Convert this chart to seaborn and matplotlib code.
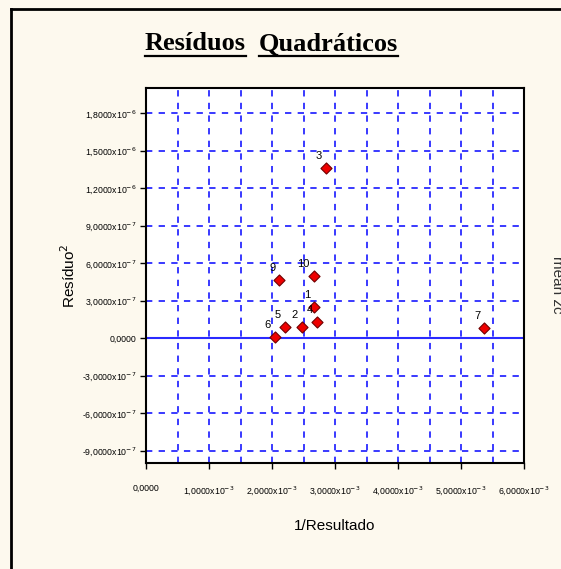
import numpy as np
import pandas as pd
import matplotlib
matplotlib.use("Agg")
import matplotlib.pyplot as plt
import seaborn as sns
from matplotlib.lines import Line2D

# dados
pontos = ["1", "2", "3", "4", "5", "6", "7", "9", "10"]
inv_resultado = [2.671e-3, 2.471e-3, 2.857e-3, 2.719e-3, 2.211e-3, 2.048e-3, 5.37e-3, 2.116e-3, 2.667e-3]
residuo2 = [2.50e-7, 0.90e-7, 1.357e-6, 1.30e-7, 0.90e-7, 0.05e-7, 0.78e-7, 4.64e-7, 4.98e-7]

yticks = [-9e-7, -6e-7, -3e-7, 0, 3e-7, 6e-7, 9e-7, 1.2e-6, 1.5e-6, 1.8e-6]
ylabels = [r"-9,0000x10$^{-7}$", r"-6,0000x10$^{-7}$", r"-3,0000x10$^{-7}$", "0,0000",
           r"3,0000x10$^{-7}$", r"6,0000x10$^{-7}$", r"9,0000x10$^{-7}$",
           r"1,2000x10$^{-6}$", r"1,5000x10$^{-6}$", r"1,8000x10$^{-6}$"]
xticks = [0, 1e-3, 2e-3, 3e-3, 4e-3, 5e-3, 6e-3]
xlabels = ["0,0000"] + [r"%d,0000x10$^{-3}$" % i for i in range(1, 7)]

df = pd.DataFrame({"x": inv_resultado, "y": residuo2, "n": pontos})

plt.rcParams["font.family"] = ["Liberation Sans", "DejaVu Sans"]
fundo = "#fdf9ee"
azul = "#2a2aff"

fig = plt.figure(figsize=(5.61, 5.69), dpi=100, facecolor=fundo)
ax = fig.add_axes([146 / 561, 106 / 569, 378 / 561, 375 / 569])
ax.set_facecolor("white")

# grade
for gx in np.arange(0.5e-3, 6e-3, 0.5e-3):
    ax.axvline(gx, color=azul, lw=1.3, ls=(0, (3.5, 3.5)), zorder=1)
for gy in yticks:
    if gy == 0:
        ax.axhline(0, color=azul, lw=1.5, zorder=1)
    else:
        ax.axhline(gy, color=azul, lw=1.3, ls=(0, (3.5, 3.5)), zorder=1)

sns.scatterplot(data=df, x="x", y="y", marker="D", s=32, color="#ee0000",
                edgecolor="#700000", linewidth=0.8, ax=ax, zorder=3)
for _, r in df.iterrows():
    ax.annotate(r["n"], (r["x"], r["y"]), xytext=(-3, 5), textcoords="offset points",
                ha="right", va="bottom", fontsize=8, zorder=4)

ax.set_xlim(0, 6e-3)
ax.set_ylim(-1e-6, 2e-6)
ax.set_xticks(xticks)
ax.set_xticklabels(xlabels, fontsize=6.3)
ax.set_yticks(yticks)
ax.set_yticklabels(ylabels, fontsize=6.3)
ax.tick_params(axis="both", length=4, width=1, color="black", pad=3)
ax.tick_params(axis="x", pad=11)
for s in ax.spines.values():
    s.set_linewidth(1.5)
    s.set_color("black")

ax.set_xlabel("1/Resultado", fontsize=11, labelpad=16)
ax.set_ylabel("Resíduo$^2$", fontsize=11, labelpad=3)

# titulo sublinhado
t1 = fig.text(145 / 561, 1 - 44 / 569, "Resíduos", family="Liberation Serif",
              weight="bold", fontsize=19, ha="left", va="center")
t2 = fig.text(259 / 561, 1 - 44 / 569, "Quadráticos", family="Liberation Serif",
              weight="bold", fontsize=19, ha="left", va="center")
fig.canvas.draw()
inv = fig.transFigure.inverted()
for t in (t1, t2):
    bb = t.get_window_extent().transformed(inv)
    fig.add_artist(Line2D([bb.x0, bb.x1], [bb.y0 - 0.001, bb.y0 - 0.001],
                          color="black", lw=1.6, transform=fig.transFigure))

# texto cortado na direita (como no original)
fig.text(557 / 561, 0.5, "mean zc", rotation=-90, fontsize=11, ha="center", va="center", color="#333333")

# moldura
fig.add_artist(Line2D([11 / 561, 11 / 561], [0, 1 - 9 / 569], color="black", lw=2, transform=fig.transFigure))
fig.add_artist(Line2D([11 / 561, 1], [1 - 9 / 569, 1 - 9 / 569], color="black", lw=2, transform=fig.transFigure))

fig.savefig("out.png", dpi=100, facecolor=fundo)
